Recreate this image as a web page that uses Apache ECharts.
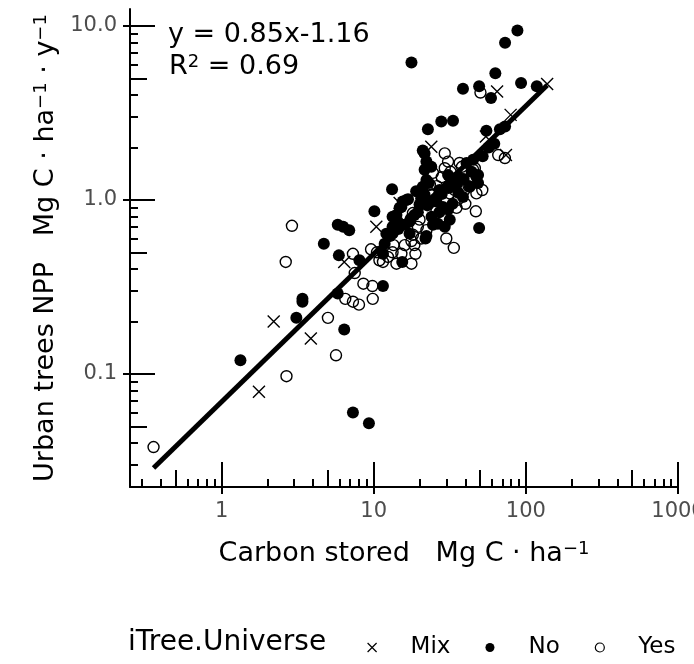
<!DOCTYPE html>
<html>
<head>
<meta charset="UTF-8">
<title>Urban trees NPP vs carbon stored</title>
<script src="https://cdn.jsdelivr.net/npm/echarts@6/dist/echarts.min.js"></script>
<style>
  html, body { margin: 0; padding: 0; background: #fff; }
  #main { width: 694px; height: 664px; }
</style>
</head>
<body>
<div id="main"></div>
<script>
    // iTree.Universe = No
    var noX = [88, 73, 17.7, 63, 93, 118, 38.6, 49.3, 59, 22.7, 27.8, 33.2, 55, 67.5, 73, 13.2, 21.6, 22.2, 21.6, 23.9,
        21, 16.8, 15.5, 10.1, 21, 21.6, 14.8, 14.1, 13.3, 30.8, 33.2, 35.8, 25.8, 28.5, 30.8, 31.6, 22.2, 5.8, 6.3, 6.9,
        13.3, 14.8, 17.2, 21.9, 24.5, 5.9, 8.05, 15.4, 11.5, 6.4, 4.7, 3.4, 3.4, 5.8, 3.1, 1.33, 7.3, 9.3, 49.3, 38.6,
        42.8, 47.3, 48.5, 29.3, 26.4, 13.3, 14.4, 40.7, 45, 48.5, 22.2, 11.5, 16.4, 15.2, 12.1, 17.2, 18.5, 20, 27.1,
        11.8, 12.8, 14.5, 16, 17.5, 19.5, 22.5, 25, 28, 31, 35, 39, 44, 52, 57, 62, 24, 27, 33, 36, 20.5, 19, 23];
    var noY = [9.4, 8.0, 6.15, 5.35, 4.7, 4.5, 4.35, 4.5, 3.85, 2.55, 2.82, 2.85, 2.5, 2.55, 2.64, 1.15, 1.85, 1.66, 1.49, 1.55,
        1.92, 1.01, 0.98, 0.86, 1.19, 1.07, 0.90, 0.82, 0.70, 1.39, 1.30, 1.36, 0.98, 0.91, 0.88, 0.77, 0.62, 0.72, 0.70, 0.67,
        0.64, 0.73, 0.64, 0.60, 0.72, 0.48, 0.45, 0.44, 0.32, 0.18, 0.56, 0.27, 0.26, 0.29, 0.21, 0.12, 0.06, 0.052, 0.69, 1.04,
        1.19, 1.36, 1.25, 0.70, 0.73, 0.80, 0.75, 1.63, 1.70, 1.39, 1.30, 0.49, 1.0, 0.91, 0.64, 0.75, 0.82, 0.94, 1.14,
        0.56, 0.62, 0.68, 0.72, 0.78, 0.85, 0.93, 1.0, 1.08, 1.17, 1.22, 1.32, 1.45, 1.78, 2.0, 2.1, 0.8, 0.85, 0.95, 1.1, 1.02, 1.12, 1.25];

    // iTree.Universe = Yes
    var yesX = [50.3, 65.8, 72.8, 29.3, 30.8, 29.3, 24.5, 36.7, 46.9, 51.7, 46.2, 30, 33.6, 25.8, 23.9, 27.1, 31.6, 34.1, 18.1, 20,
        19.5, 22.2, 18.1, 17.7, 18.5, 18.8, 7.3, 9.6, 10.9, 13.3, 14.1, 15.2, 17.7, 12.4, 11.5, 7.5, 8.55, 9.8, 9.85, 6.5,
        7.3, 8.0, 2.9, 2.64, 5.0, 5.65, 2.67, 0.357, 41.7, 47.3, 45, 35.6, 39.5, 23.4,
        26, 28, 32, 38, 42, 35, 40, 20.5, 16, 13.5, 10.5];
    var yesY = [4.14, 1.81, 1.74, 1.85, 1.66, 1.52, 1.43, 1.63, 0.86, 1.14, 1.52, 0.60, 0.53, 0.86, 1.07, 1.09, 1.09, 1.14, 0.84, 0.77,
        0.70, 0.67, 0.63, 0.58, 0.55, 0.49, 0.49, 0.52, 0.45, 0.50, 0.43, 0.49, 0.43, 0.47, 0.44, 0.38, 0.33, 0.32, 0.27, 0.27,
        0.26, 0.25, 0.71, 0.44, 0.21, 0.128, 0.097, 0.038, 1.30, 1.09, 1.49, 1.0, 1.14, 1.22,
        1.2, 1.35, 1.45, 1.55, 1.2, 0.9, 0.95, 0.6, 0.55, 0.55, 0.5];

    // iTree.Universe = Mix
    var mixX = [138, 64.7, 79.4, 54.6, 74, 23.9, 10.4, 6.4, 2.2, 3.86, 1.76, 14.8];
    var mixY = [4.64, 4.2, 3.08, 2.31, 1.81, 2.02, 0.70, 0.44, 0.20, 0.16, 0.079, 0.96];

    // fitted line end points (y = 0.85x - 1.16 on log scales)
    var fitX = [0.357, 138];
    var fitY = [0.0288, 4.56];

    // axis ticks
    var xMajor = [1, 10, 100, 1000];
    var xMid = [0.5, 5, 50, 500];
    var xMinor = [0.3, 0.4, 0.6, 0.7, 0.8, 0.9, 2, 3, 4, 6, 7, 8, 9, 20, 30, 40, 60, 70, 80, 90,
        200, 300, 400, 600, 700, 800, 900];
    var yMajor = [0.1, 1, 10];
    var yMajorText = ['0.1', '1.0', '10.0'];
    var yMid = [0.05, 0.5, 5];
    var yMinor = [0.03, 0.04, 0.06, 0.07, 0.08, 0.09, 0.2, 0.3, 0.4, 0.6, 0.7, 0.8, 0.9,
        2, 3, 4, 6, 7, 8, 9];

    var FONT = 'DejaVu Sans';
    var xMin = 0.25, xMax = 1000, yMin = 0.0224, yMax = 12.5;

    function pairs(xs, ys) {
        var out = [];
        for (var i = 0; i < xs.length; i++) out.push([xs[i], ys[i]]);
        return out;
    }

    // extra axes only used to draw the inside log ticks
    function tickAxis(pos, min, max, vals, len) {
        return {
            type: 'log', position: pos, offset: 0, min: min, max: max, gridIndex: 0,
            axisLine: { show: false },
            axisLabel: { show: false },
            splitLine: { show: false },
            axisTick: { show: true, inside: true, customValues: vals, length: len,
                lineStyle: { color: '#000', width: 2 } }
        };
    }

    var titleRich = {
        n: { fontSize: 27, fontFamily: FONT, color: '#000' },
        s: { fontSize: 18, fontFamily: FONT, color: '#000', verticalAlign: 'top' }
    };

    var crossPath = 'path://M0,0L10,10M10,0L0,10';

    var myChart = echarts.init(document.getElementById('main'));
    var option = {
        animation: false,
        backgroundColor: '#fff',
        grid: { left: 130, right: 16, top: 9, bottom: 177, containLabel: false, outerBoundsMode: 'none' },
        xAxis: [{
            type: 'log', position: 'bottom', min: xMin, max: xMax,
            axisLine: { show: true, lineStyle: { color: '#000', width: 2 } },
            axisTick: { show: true, customValues: xMajor, length: 7, lineStyle: { color: '#000', width: 2 } },
            axisLabel: { customValues: xMajor, color: '#4d4d4d', fontSize: 21, fontFamily: FONT, margin: 14,
                formatter: function (v) { return String(Math.round(v)); } },
            splitLine: { show: false },
            name: '{n|Carbon stored   Mg C · ha}{s|−1}',
            nameLocation: 'middle', nameGap: 53,
            nameTextStyle: { rich: titleRich }
        },
            tickAxis('bottom', xMin, xMax, xMajor, 25),
            tickAxis('bottom', xMin, xMax, xMid, 17),
            tickAxis('bottom', xMin, xMax, xMinor, 8)
        ],
        yAxis: [{
            type: 'log', position: 'left', min: yMin, max: yMax,
            axisLine: { show: true, lineStyle: { color: '#000', width: 2 } },
            axisTick: { show: true, customValues: yMajor, length: 7, lineStyle: { color: '#000', width: 2 } },
            axisLabel: { customValues: yMajor, color: '#4d4d4d', fontSize: 21, fontFamily: FONT, margin: 13,
                formatter: function (v) {
                    for (var i = 0; i < yMajor.length; i++) {
                        if (Math.abs(v - yMajor[i]) < yMajor[i] * 1e-6) return yMajorText[i];
                    }
                    return '';
                } },
            splitLine: { show: false },
            name: '{n|Urban trees NPP   Mg C · ha}{s|−1}{n| · y}{s|−1}',
            nameLocation: 'middle', nameGap: 71,
            nameTextStyle: { rich: titleRich }
        },
            tickAxis('left', yMin, yMax, yMajor, 25),
            tickAxis('left', yMin, yMax, yMid, 17),
            tickAxis('left', yMin, yMax, yMinor, 8)
        ],
        legend: {
            left: 362, top: 631,
            itemWidth: 9, itemHeight: 9, itemGap: 35,
            textStyle: { fontSize: 23, fontFamily: FONT, color: '#000', padding: [0, 0, 0, 29] },
            selectedMode: false,
            data: [
                { name: 'Mix', icon: crossPath, itemStyle: { color: 'rgba(0,0,0,0)', borderColor: '#000', borderWidth: 1.2, opacity: 1 } },
                { name: 'No', icon: 'circle', itemStyle: { color: '#000', borderWidth: 0, opacity: 1 } },
                { name: 'Yes', icon: 'circle', itemStyle: { color: 'rgba(0,0,0,0)', borderColor: '#000', borderWidth: 1.2, opacity: 1 } }
            ]
        },
        graphic: [
            { type: 'text', left: 168, top: 21, style: { text: 'y = 0.85x-1.16', font: '27px DejaVu Sans', fill: '#000' } },
            { type: 'text', left: 169, top: 53, style: {
                text: '{n|R}{s|2}{n| = 0.69}', fill: '#000',
                rich: { n: { fontSize: 27, fontFamily: FONT }, s: { fontSize: 18, fontFamily: FONT, verticalAlign: 'top' } }
            } },
            { type: 'text', left: 128, top: 629, style: { text: 'iTree.Universe', font: '28px DejaVu Sans', fill: '#000' } }
        ],
        series: [{
            name: 'No', type: 'scatter', xAxisIndex: 0, yAxisIndex: 0,
            symbol: 'circle', symbolSize: 12,
            itemStyle: { color: '#000', opacity: 1 },
            data: pairs(noX, noY)
        }, {
            name: 'Yes', type: 'scatter', xAxisIndex: 0, yAxisIndex: 0,
            symbol: 'circle', symbolSize: 11,
            itemStyle: { color: 'rgba(0,0,0,0)', borderColor: '#000', borderWidth: 1.4, opacity: 1 },
            data: pairs(yesX, yesY)
        }, {
            name: 'Mix', type: 'scatter', xAxisIndex: 0, yAxisIndex: 0,
            symbol: crossPath, symbolSize: 12,
            itemStyle: { color: 'rgba(0,0,0,0)', borderColor: '#000', borderWidth: 1.4, opacity: 1 },
            data: pairs(mixX, mixY)
        }, {
            name: 'fit', type: 'line', xAxisIndex: 0, yAxisIndex: 0,
            showSymbol: false, silent: true, z: 5,
            lineStyle: { color: '#000', width: 5 },
            data: pairs(fitX, fitY)
        }]
    };
    myChart.setOption(option);
</script>
</body>
</html>
